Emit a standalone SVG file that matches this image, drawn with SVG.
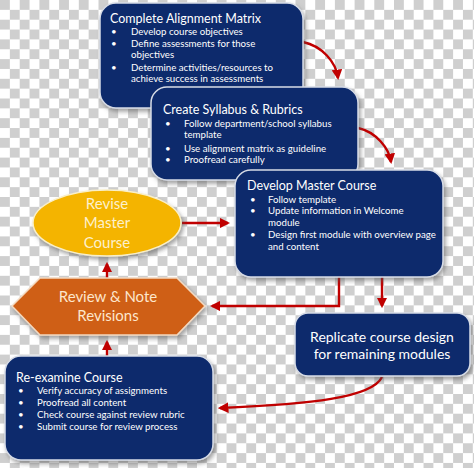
<svg xmlns="http://www.w3.org/2000/svg" width="474" height="468" viewBox="0 0 474 468">
<defs>
<pattern id="checker" patternUnits="userSpaceOnUse" width="19.7" height="19.7">
<rect width="19.7" height="19.7" fill="#ffffff"/>
<rect width="9.85" height="9.85" fill="#cfcfcf"/>
<rect x="9.85" y="9.85" width="9.85" height="9.85" fill="#cfcfcf"/>
</pattern>
<filter id="shadow" x="-10%" y="-10%" width="125%" height="130%">
<feDropShadow dx="2" dy="3" stdDeviation="2" flood-color="#555" flood-opacity="0.55"/>
</filter>
<marker id="arrow" viewBox="0 0 10 10" refX="8" refY="5" markerWidth="4.4" markerHeight="4.4" orient="auto" markerUnits="strokeWidth">
<path d="M0,0 L10,5 L0,10 z" fill="#c00000"/>
</marker>
<style>
.box{fill:#0c2a6c;stroke:#d6dbe6;stroke-width:1.5;filter:url(#shadow);}
.title{font-family:Lato,"Liberation Sans",sans-serif;font-size:12.5px;fill:#ffffff;}
.item{font-family:Lato,"Liberation Sans",sans-serif;font-size:9.7px;fill:#ffffff;}
.big{font-family:Lato,"Liberation Sans",sans-serif;font-size:14px;fill:#ffffff;text-anchor:middle;}
.shape{font-family:Lato,"Liberation Sans",sans-serif;font-size:15px;text-anchor:middle;}
.conn{fill:none;stroke:#c00000;stroke-width:2.4;}
</style>
</defs>
<rect width="474" height="468" fill="url(#checker)"/>

<g id="connectors">
<path class="conn" d="M303,42 C322,46 336,62 338,78" marker-end="url(#arrow)"/>
<path class="conn" d="M358,128 C376,132 389,148 391,162" marker-end="url(#arrow)"/>
<path class="conn" d="M182,223 L228,223" marker-end="url(#arrow)"/>
<path class="conn" d="M107,278 L107,264" marker-end="url(#arrow)"/>
<path class="conn" d="M107,356 L107,342" marker-end="url(#arrow)"/>
<path class="conn" d="M339,277 L339,306 L212,306" marker-end="url(#arrow)"/>
<path class="conn" d="M382,277 L382,306" marker-end="url(#arrow)"/>
<path class="conn" d="M382,377 C372,398 310,404 220,408" marker-end="url(#arrow)"/>
</g>

<g id="node-alignment">
<rect class="box" x="100" y="3" width="203" height="105" rx="16"/>
<text class="title" x="110" y="22.5">Complete Alignment Matrix</text>
<text class="item" x="111" y="35">•</text><text class="item" x="131" y="35">Develop course objectives</text>
<text class="item" x="111" y="46.5">•</text><text class="item" x="131" y="46.5">Define assessments for those</text>
<text class="item" x="131" y="57.5">objectives</text>
<text class="item" x="111" y="70.5">•</text><text class="item" x="131" y="70.5">Determine activities/resources to</text>
<text class="item" x="131" y="81.5">achieve success in assessments</text>
</g>

<g id="node-syllabus">
<rect class="box" x="151" y="87" width="207" height="93" rx="16"/>
<text class="title" x="163" y="113.5">Create Syllabus &amp; Rubrics</text>
<text class="item" x="165" y="127">•</text><text class="item" x="184" y="127">Follow department/school syllabus</text>
<text class="item" x="184" y="138">template</text>
<text class="item" x="165" y="152">•</text><text class="item" x="184" y="152">Use alignment matrix as guideline</text>
<text class="item" x="165" y="163">•</text><text class="item" x="184" y="163">Proofread carefully</text>
</g>

<g id="node-develop">
<rect class="box" x="235" y="170" width="208" height="107" rx="16"/>
<text class="title" x="247" y="189.5">Develop Master Course</text>
<text class="item" x="250" y="202.5">•</text><text class="item" x="268" y="202.5">Follow template</text>
<text class="item" x="250" y="214">•</text><text class="item" x="268" y="214">Update information in Welcome</text>
<text class="item" x="268" y="226">module</text>
<text class="item" x="250" y="238">•</text><text class="item" x="268" y="238">Design first module with overview page</text>
<text class="item" x="268" y="250">and content</text>
</g>

<g id="node-revise">
<ellipse cx="107" cy="223" rx="74" ry="33" fill="#f4b400" stroke="#f9efc8" stroke-width="1.5" filter="url(#shadow)"/>
<text class="shape" x="107" y="209" fill="#fdf0cc">Revise</text>
<text class="shape" x="107" y="228" fill="#fdf0cc">Master</text>
<text class="shape" x="107" y="248" fill="#fdf0cc">Course</text>
</g>

<g id="node-review">
<polygon points="40,278 177,278 205,306 177,335 40,335 12,306" fill="#cf5f17" stroke="#f3d9c0" stroke-width="1.5" filter="url(#shadow)"/>
<text class="shape" x="108" y="302" fill="#fde6cc">Review &amp; Note</text>
<text class="shape" x="108" y="321" fill="#fde6cc">Revisions</text>
</g>

<g id="node-replicate">
<rect class="box" x="295" y="313" width="175" height="63" rx="13"/>
<text class="big" x="382" y="342">Replicate course design</text>
<text class="big" x="382" y="359">for remaining modules</text>
</g>

<g id="node-reexamine">
<rect class="box" x="5" y="356" width="208" height="104" rx="16"/>
<text class="title" x="16" y="381.5">Re-examine Course</text>
<text class="item" x="18" y="394">•</text><text class="item" x="37" y="394">Verify accuracy of assignments</text>
<text class="item" x="18" y="405.5">•</text><text class="item" x="37" y="405.5">Proofread all content</text>
<text class="item" x="18" y="417.5">•</text><text class="item" x="37" y="417.5">Check course against review rubric</text>
<text class="item" x="18" y="429.5">•</text><text class="item" x="37" y="429.5">Submit course for review process</text>
</g>
</svg>
